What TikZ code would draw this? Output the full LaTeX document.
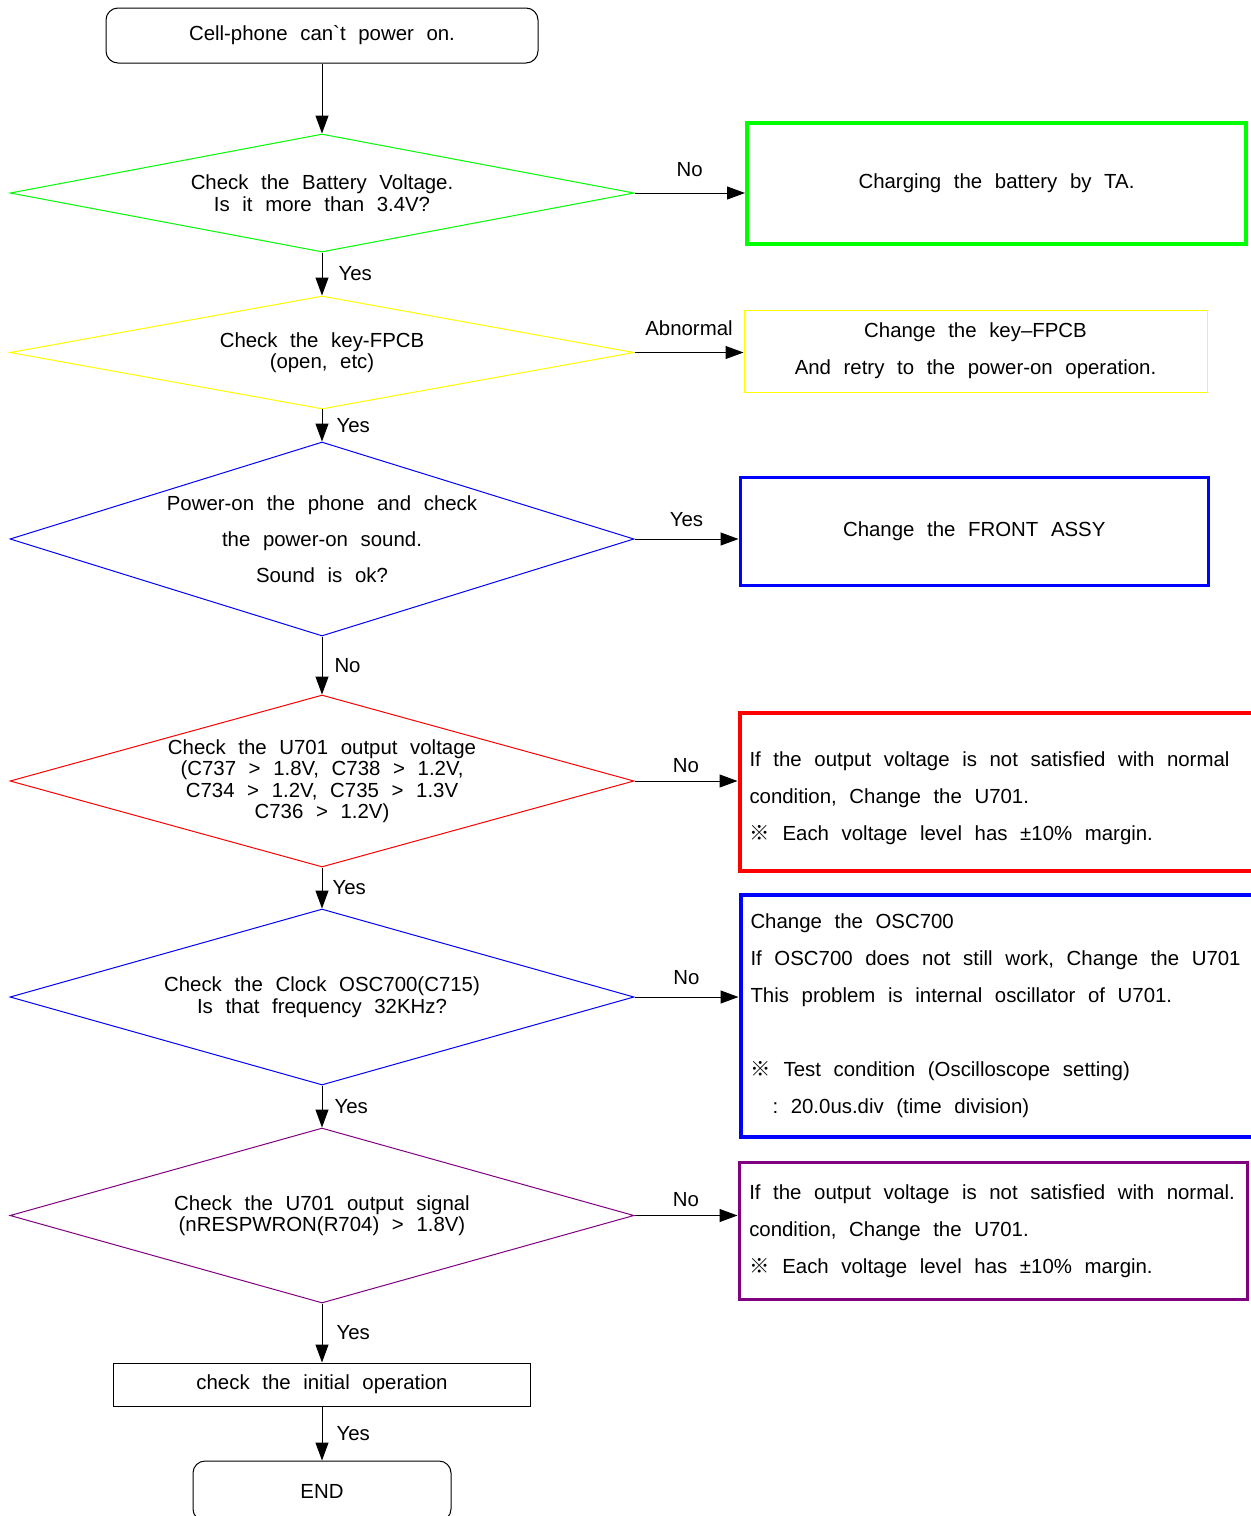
\documentclass[tikz,border=0pt]{standalone}
\usepackage{fontspec}
\setmainfont{Liberation Sans}
\newfontfamily\refmark{Noto Sans CJK SC}
\usetikzlibrary{arrows.meta, positioning, shapes.geometric}
\definecolor{cBat}{RGB}{0,255,0}
\definecolor{cKey}{RGB}{255,255,0}
\definecolor{cSnd}{RGB}{0,0,255}
\definecolor{cVolt}{RGB}{255,0,0}
\definecolor{cOsc}{RGB}{0,0,255}
\definecolor{cSig}{RGB}{128,0,128}
\newcommand{\rmark}{{\refmark ※}}
\newcommand{\widesp}{\spaceskip=0.62em plus 0.2em minus 0.1em\xspaceskip=\spaceskip}
\newcommand{\chartfont}[1]{\fontsize{10.2pt}{#1}\selectfont\widesp}

\begin{document}
\begin{tikzpicture}[
      >={Triangle[length=9pt, width=6.5pt]}, line width=0.5pt,
      font=\chartfont{12pt},
      term/.style={draw, rounded corners=6pt, minimum width=216pt, minimum height=27.5pt},
      dec/.style={diamond, draw, aspect=3.6, inner sep=0pt, align=center,
                  minimum width=312pt, font=\chartfont{10.75pt}},
      fix/.style={draw, inner xsep=5pt, inner ysep=0pt, align=flush left,
                  font=\chartfont{18.5pt}},
      lbl/.style={inner sep=0pt}]
    \useasboundingbox (0,0) rectangle (625.5pt,-758pt);
    \clip (0,0) rectangle (625.5pt,-758pt);
    % main column
    \node[term] (start) at (161pt,-17.75pt) {Cell-phone can\textasciigrave t power on.};
    \node[dec, draw=cBat, minimum height=59pt] (batt) at (161pt,-96.5pt)
      {Check the Battery Voltage.\\Is it more than 3.4V?};
    \node[dec, draw=cKey, minimum height=56.5pt] (fpcb) at (161pt,-176.25pt)
      {Check the key-FPCB\\(open, etc)};
    \node[dec, draw=cSnd, minimum height=97pt, font=\chartfont{18pt}] (sound) at (161pt,-269.5pt)
      {Power-on the phone and check\\the power-on sound.\\Sound is ok?};
    \node[dec, draw=cVolt, minimum height=86pt] (volt) at (161pt,-390.5pt)
      {Check the U701 output voltage\\(C737 > 1.8V, C738 > 1.2V,\\C734 > 1.2V, C735 > 1.3V\\C736 > 1.2V)};
    \node[dec, draw=cOsc, minimum height=88pt] (osc) at (161pt,-498.5pt)
      {Check the Clock OSC700(C715)\\Is that frequency 32KHz?};
    \node[dec, draw=cSig, minimum height=87.5pt] (sig) at (161pt,-607.75pt)
      {Check the U701 output signal\\(nRESPWRON(R704) > 1.8V)};
    \node[draw, minimum width=208.5pt, minimum height=21.5pt] (init) at (161pt,-692.25pt)
      {check the initial operation};
    \node[term, minimum width=129pt, minimum height=30pt] (fin) at (161pt,-745.5pt) {END};
    % repair boxes
    \node[fix, draw=cBat, line width=2pt, minimum width=249.5pt, minimum height=60.5pt,
          right=55.25pt of batt, yshift=4.75pt] (charge) {Charging the battery by TA.};
    \node[fix, draw=cKey, align=center, minimum width=231.5pt, minimum height=41pt,
          right=54.5pt of fpcb, yshift=0.75pt] (retry)
      {Change the key--FPCB\\And retry to the power-on operation.};
    \node[fix, draw=cSnd, line width=1.75pt, minimum width=234pt, minimum height=54pt,
          right=52pt of sound, yshift=3.75pt] (front) {Change the FRONT ASSY};
    \node[fix, draw=cVolt, line width=2pt, text width=256pt, minimum height=78.75pt,
          right=51.5pt of volt, yshift=-5.4pt] (uvolt)
      {\widesp\rule{0pt}{13.5pt}\mbox{If the output voltage is not satisfied with normal}\\
       condition, Change the U701.\\
       \rmark\ Each voltage level has ±10\% margin.};
    \node[fix, draw=cOsc, line width=2pt, text width=256pt, minimum height=121pt,
          right=52pt of osc, yshift=-9.25pt] (uosc)
      {\widesp Change the OSC700\\
       \mbox{If OSC700 does not still work, Change the U701}\\
       This problem is internal oscillator of U701.\\[18.5pt]
       \rmark\ Test condition (Oscilloscope setting)\\
       \hspace*{11pt}: 20.0us.div (time division)};
    \node[fix, draw=cSig, line width=1.75pt, text width=244pt, minimum height=68.5pt,
          right=51.5pt of sig, yshift=-7.75pt] (usig)
      {\widesp\mbox{If the output voltage is not satisfied with normal.}\\
       condition, Change the U701.\\
       \rmark\ Each voltage level has ±10\% margin.};
    % connectors
    \draw[->] (start) -- (batt);
    \draw[->] (batt) -- node[lbl, right=8pt] {Yes} (fpcb);
    \draw[->] (fpcb) -- node[lbl, right=7pt] {Yes} (sound);
    \draw[->] (sound) -- node[lbl, right=6pt] {No} (volt);
    \draw[->] (volt) -- node[lbl, right=5pt] {Yes} (osc);
    \draw[->] (osc) -- node[lbl, right=6pt] {Yes} (sig);
    \draw[->] (sig) -- node[lbl, right=7pt] {Yes} (init);
    \draw[->] (init) -- node[lbl, right=7pt] {Yes} (fin);
    \draw[->] (batt.east) -- node[lbl, above=8pt] {No} (batt.east -| charge.west);
    \draw[->] (fpcb.east) -- node[lbl, above=8pt] {Abnormal} (fpcb.east -| retry.west);
    \draw[->] (sound.east) -- node[lbl, above=6pt] {Yes} (sound.east -| front.west);
    \draw[->] (volt.east) -- node[lbl, above=4pt] {No} (volt.east -| uvolt.west);
    \draw[->] (osc.east) -- node[lbl, above=6pt] {No} (osc.east -| uosc.west);
    \draw[->] (sig.east) -- node[lbl, above=4pt] {No} (sig.east -| usig.west);
  \end{tikzpicture}
\end{document}
